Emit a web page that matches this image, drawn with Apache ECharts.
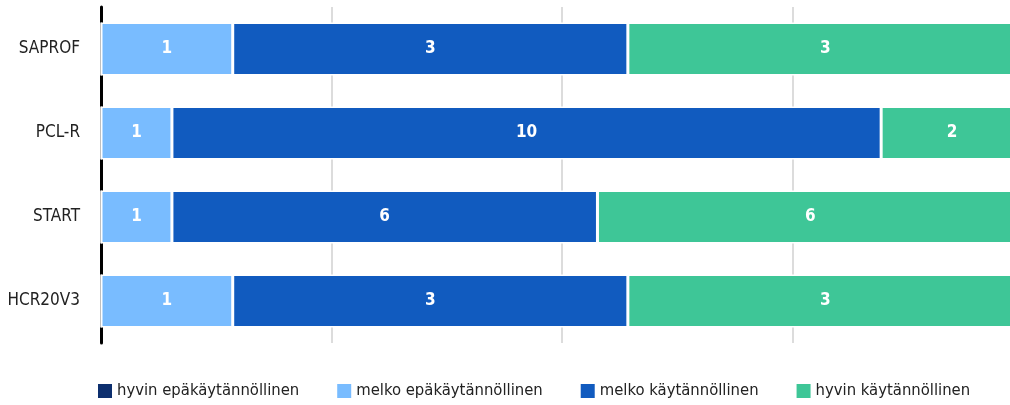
<!DOCTYPE html>
<html>
<head>
<meta charset="utf-8">
<script src="https://cdn.jsdelivr.net/npm/echarts@6/dist/echarts.min.js"></script>
<style>
    html, body { margin: 0; padding: 0; background: #fff; }
    #chart { width: 1010px; height: 405px; }
</style>
</head>
<body>
<div id="chart"></div>
<script>
// arvioinnin menetelmät (luokat ylhäältä alas)
const categories = ['SAPROF', 'PCL-R', 'START', 'HCR20V3']
const seriesNames = ['hyvin epäkäytännöllinen', 'melko epäkäytännöllinen', 'melko käytännöllinen', 'hyvin käytännöllinen']
// vastausten lukumäärät
const hyvinEpa = [0, 0, 0, 0]
const melkoEpa = [1, 1, 1, 1]
const melkoKay = [3, 10, 6, 3]
const hyvinKay = [3, 2, 6, 3]
const colors = ['#0d2f6e', '#79bcff', '#115bbf', '#3ec697']

const counts = [hyvinEpa, melkoEpa, melkoKay, hyvinKay]
const FONT = '"DejaVu Sans"'

// summat per luokka -> osuudet (100 % pinottu)
const totals = categories.map((c, i) => counts.reduce((s, arr) => s + arr[i], 0))

let myChart = echarts.init(document.getElementById('chart'))
let options = {
    animation: false,
    color: colors,
    grid: {
        left: 101,
        top: 7,
        width: 922,
        height: 336,
        outerBoundsMode: 'none' // 100 % jää kuvan oikean reunan ulkopuolelle
    },
    legend: {
        left: 96,
        top: 382,
        padding: 0,
        itemWidth: 16,
        itemHeight: 16,
        itemGap: 36,
        icon: 'rect',
        textStyle: { fontFamily: FONT, fontStyle: 'condensed', fontSize: 16.5, color: '#222', padding: [0, 0, 0, -1] },
        data: seriesNames
    },
    xAxis: {
        type: 'value',
        min: 0,
        max: 100,
        interval: 25,
        axisLabel: { show: false },
        axisLine: { show: false },
        axisTick: { show: false },
        splitLine: { lineStyle: { color: '#dcdcdc', width: 2 } }
    },
    yAxis: {
        type: 'category',
        inverse: true,
        data: categories,
        axisLine: { lineStyle: { color: '#000', width: 3 } },
        axisTick: { show: false },
        axisLabel: { fontFamily: FONT, fontStyle: 'condensed', fontSize: 17, color: '#222', margin: 21 }
    },
    series: counts.map((arr, k) => ({
        name: seriesNames[k],
        type: 'bar',
        stack: 'total',
        barWidth: '63%',
        itemStyle: { borderColor: '#fff', borderWidth: 1.5 },
        label: {
            show: true,
            color: '#fff',
            fontFamily: FONT,
            fontStyle: 'condensed',
            fontWeight: 'bold',
            fontSize: 17,
            formatter: p => arr[p.dataIndex] > 0 ? String(arr[p.dataIndex]) : ''
        },
        data: arr.map((v, i) => v / totals[i] * 100)
    }))
}
myChart.setOption(options)
</script>
</body>
</html>
